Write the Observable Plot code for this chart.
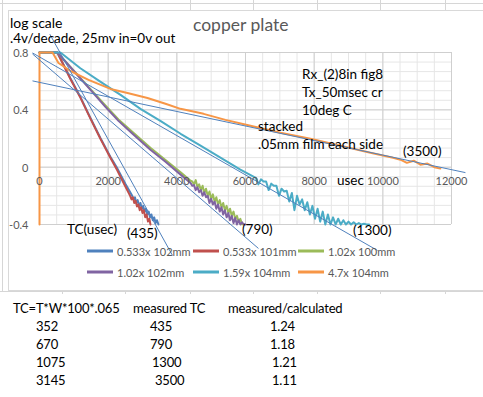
<!DOCTYPE html>
<html><head><meta charset="utf-8">
<script src="https://cdn.jsdelivr.net/npm/d3@7"></script>
<script src="https://cdn.jsdelivr.net/npm/@observablehq/plot@0.6"></script>
<style>
html,body{margin:0;padding:0;background:#fff;}
#wrap{position:relative;width:483px;height:397px;overflow:hidden;font-family:Lato,"Open Sans",sans-serif;}
.t{position:absolute;white-space:nowrap;line-height:1;transform:translateY(-50%);color:#000;}
.g{position:absolute;background:#d6d6d6;}
.sw{position:absolute;height:3px;width:26px;transform:translateY(-50%);}
#plot{position:absolute;left:0;top:0;}
</style></head><body><div id="wrap"><div id="plot"></div></div>
<script>
// ---- data ----
const seriesNames = ["0.533x 102mm","0.533x 101mm","1.02x 100mm","1.02x 102mm","1.59x 104mm","4.7x 104mm"];
const seriesColors = ["#4f81bd","#c0504d","#9bbb59","#8064a2","#4bacc6","#f79646"];

const s1x = [0, 520, 900, 1190, 1480, 1770, 2060, 2270, 2500, 2700, 2740, 2780, 2820, 2860, 2900, 2940, 2980, 3020, 3060, 3100, 3140, 3180, 3220, 3260, 3300, 3340, 3380, 3420, 3465];
const s1y = [0.8, 0.8, 0.62, 0.49, 0.345, 0.205, 0.075, -0.01, -0.115, -0.2, -0.225, -0.21, -0.25, -0.23, -0.27, -0.25, -0.29, -0.27, -0.31, -0.29, -0.33, -0.31, -0.35, -0.33, -0.37, -0.35, -0.39, -0.37, -0.4];

const s2x = [0, 520, 900, 1190, 1480, 1770, 2060, 2260, 2490, 2640, 2680, 2720, 2760, 2800, 2840, 2880, 2920, 2960, 3000, 3040, 3080, 3120, 3160, 3200, 3232];
const s2y = [0.8, 0.8, 0.615, 0.485, 0.34, 0.2, 0.068, -0.02, -0.13, -0.2, -0.225, -0.21, -0.25, -0.235, -0.275, -0.26, -0.3, -0.28, -0.32, -0.3, -0.35, -0.33, -0.38, -0.36, -0.4];

const s3x = [0, 520, 1050, 1485, 1920, 2300, 2710, 3230, 3670, 4110, 4400, 4450, 4500, 4550, 4600, 4650, 4700, 4750, 4800, 4850, 4900, 4950, 5000, 5050, 5100, 5150, 5200, 5250, 5300, 5350, 5400, 5450, 5500, 5550, 5600, 5650, 5700, 5750, 5800, 5850, 5900];
const s3y = [0.8, 0.8, 0.66, 0.545, 0.43, 0.333, 0.245, 0.135, 0.05, -0.035, -0.095, -0.1, -0.12, -0.09, -0.14, -0.12, -0.16, -0.13, -0.18, -0.15, -0.2, -0.17, -0.22, -0.19, -0.24, -0.21, -0.26, -0.23, -0.28, -0.25, -0.3, -0.27, -0.32, -0.29, -0.34, -0.31, -0.36, -0.34, -0.38, -0.36, -0.4];

const s4x = [0, 520, 1050, 1485, 1920, 2300, 2710, 3230, 3670, 4110, 4400, 4450, 4500, 4550, 4600, 4650, 4700, 4750, 4800, 4850, 4900, 4950, 5000, 5050, 5100, 5150, 5200, 5250, 5300, 5350, 5400, 5450, 5500, 5550, 5600, 5650, 5700, 5750, 5800, 5850, 5900, 5950, 6000];
const s4y = [0.8, 0.8, 0.657, 0.539, 0.421, 0.323, 0.233, 0.122, 0.038, -0.052, -0.11, -0.13, -0.125, -0.16, -0.14, -0.175, -0.16, -0.2, -0.175, -0.21, -0.2, -0.25, -0.22, -0.26, -0.24, -0.29, -0.26, -0.31, -0.28, -0.33, -0.3, -0.35, -0.32, -0.37, -0.34, -0.39, -0.355, -0.4, -0.37, -0.4, -0.385, -0.4, -0.4];

const s5x = [0, 610, 1190, 1780, 2360, 2940, 3520, 4110, 4690, 5270, 5850, 6300, 6375, 6450, 6525, 6600, 6675, 6750, 6825, 6900, 6975, 7050, 7125, 7200, 7275, 7350, 7425, 7500, 7575, 7650, 7725, 7800, 7875, 7950, 8025, 8100, 8175, 8250, 8325, 8400, 8475, 8550, 8625, 8700, 8775, 8850, 8925, 9000, 9075, 9150, 9225, 9300, 9375, 9450, 9525, 9600];
const s5y = [0.8, 0.8, 0.69, 0.595, 0.504, 0.407, 0.323, 0.233, 0.15, 0.066, -0.017, -0.075, -0.12, -0.085, -0.1, -0.1, -0.16, -0.115, -0.13, -0.13, -0.2, -0.15, -0.17, -0.165, -0.24, -0.18, -0.3, -0.2, -0.26, -0.225, -0.3, -0.245, -0.33, -0.27, -0.36, -0.29, -0.38, -0.31, -0.4, -0.33, -0.4, -0.35, -0.4, -0.36, -0.4, -0.37, -0.4, -0.38, -0.4, -0.385, -0.4, -0.39, -0.4, -0.395, -0.4, -0.4];

const s6x = [0, 0, 379, 553, 903, 1427, 2068, 2563, 3145, 3669, 4106, 4780, 5416, 6145, 7018, 7892, 8765, 9639, 10300, 10513, 10700, 10900, 11095, 11300, 11500, 11677];
const s6y = [-0.4, 0.8, 0.8, 0.727, 0.671, 0.609, 0.546, 0.518, 0.483, 0.442, 0.407, 0.372, 0.33, 0.289, 0.24, 0.198, 0.15, 0.101, 0.065, 0.052, 0.03, 0.045, 0.017, 0.025, 0.0, -0.01];

// trend lines (start/end) labelled by measured TC
const trendTC = [435, 790, 1300, 3500];
const trendX1 = [300, -204, -204, -204];
const trendY1 = [0.928, 0.79, 0.797, 0.602];
const trendX2 = [3874, 6377, 9843, 12406];
const trendY2 = [-0.616, -0.567, -0.581, -0.038];

const xTicks = [0, 2000, 4000, 6000, 8000, 10000, 12000];
const yTicks = [-0.4, 0, 0.4, 0.8];
const xMinor = d3.range(0, 12001, 500);
const yMinor = d3.range(0, 19).map(i => -0.4 + i * 0.4 / 6);

const calcTC = [352, 670, 1075, 3145];
const measTC = [435, 790, 1300, 3500];
const ratio = ["1.24", "1.18", "1.21", "1.11"];

// ---- build ----
const sx = [s1x, s2x, s3x, s4x, s5x, s6x], sy = [s1y, s2y, s3y, s4y, s5y, s6y];
const seriesMarks = sx.map((xs, i) => Plot.line(xs.map((x, j) => ({x, y: sy[i][j]})),
  {x: "x", y: "y", stroke: seriesColors[i], strokeWidth: 2, strokeLinejoin: "round"}));
const trends = trendTC.map((tc, i) => ({tc, x1: trendX1[i], y1: trendY1[i], x2: trendX2[i], y2: trendY2[i]}));

const chart = Plot.plot({
  width: 483, height: 290,
  marginLeft: 39, marginRight: 32, marginTop: 52, marginBottom: 66,
  x: {domain: [0, 12000], axis: null},
  y: {domain: [-0.4, 0.8], axis: null},
  style: {fontFamily: "Lato, sans-serif", background: "transparent", overflow: "visible"},
  marks: [
    Plot.ruleX(xMinor, {stroke: "#e6e6e6", strokeWidth: 1}),
    Plot.ruleY(yMinor, {stroke: "#e6e6e6", strokeWidth: 1}),
    Plot.ruleX(xTicks, {stroke: "#cfcfcf", strokeWidth: 1}),
    Plot.ruleY(yTicks, {stroke: "#cfcfcf", strokeWidth: 1}),
    ...seriesMarks,
    Plot.link(trends, {x1: "x1", y1: "y1", x2: "x2", y2: "y2", stroke: "#4f81bd", strokeWidth: 1}),
    Plot.text(xTicks, {x: d => d, y: 0, dy: 14.5, text: d => String(d), fill: "#595959", fontSize: 11}),
    Plot.text(yTicks, {x: 0, y: d => d, dx: -11, dy: 1, textAnchor: "end", text: d => String(d), fill: "#595959", fontSize: 11})
  ]
});
document.getElementById("plot").appendChild(chart);

const wrap = document.getElementById("wrap");
function line(l, t, w, h) { const d = document.createElement("div"); d.className = "g"; Object.assign(d.style, {left: l + "px", top: t + "px", width: w + "px", height: h + "px"}); wrap.insertBefore(d, wrap.firstChild); }
line(0, 3, 483, 1); line(2, 0, 1, 291); line(0, 291, 483, 1);
[62, 125, 190, 253, 317, 380, 445].forEach(x => { line(x, 0, 1, 10); line(x, 288, 1, 6); });
// chart border
const b = document.createElement("div");
Object.assign(b.style, {position: "absolute", left: "8px", top: "10px", width: "490px", height: "279px", border: "1px solid #d9d9d9", background: "#fff"});
wrap.insertBefore(b, document.getElementById("plot"));

function txt(s, l, y, size, color, extra) { const d = document.createElement("div"); d.className = "t"; d.textContent = s; Object.assign(d.style, {left: l + "px", top: y + "px", fontSize: size + "px"}); if (color) d.style.color = color; if (extra) Object.assign(d.style, extra); wrap.appendChild(d); }
txt("log scale", 10, 22.5, 14);
txt(".4v/decade, 25mv in=0v out", 10, 38.5, 13.5);
txt("copper plate", 193, 25, 17.5, "#595959");
txt("Rx_(2)8in fig8", 302, 75, 13.5);
txt("Tx_50msec cr", 302, 93, 13.5);
txt("10deg C", 302, 111, 13.5);
txt("stacked", 258, 127, 13.5);
txt(".05mm film each side", 258, 145, 13.5);
txt("(" + measTC[3] + ")", 403, 152, 13.5);
txt("usec", 337, 181, 13.5);
txt("TC(usec)", 67, 230, 13.5);
txt("(" + measTC[0] + ")", 127, 234, 13.5);
txt("(" + measTC[1] + ")", 242, 230, 13.5);
txt("(" + measTC[2] + ")", 353, 231, 13.5);

// legend
const legX = [87, 193, 298], legY = [251, 272];
seriesNames.forEach((n, i) => {
  const col = i % 3, row = Math.floor(i / 3);
  const s = document.createElement("div"); s.className = "sw";
  Object.assign(s.style, {left: legX[col] + "px", top: legY[row] + "px", background: seriesColors[i]});
  wrap.appendChild(s);
  txt(n, legX[col] + 30, legY[row], 11, "#595959");
});

// table
const tb = {letterSpacing: "-0.2px"};
txt("TC=T*W*100*.065", 13, 308, 13, null, tb);
txt("measured TC", 133, 308, 13, null, tb);
txt("measured/calculated", 228, 308, 13, null, tb);
const rowY = [326, 344, 362, 380], c2 = [150, 150, 152, 155], c3 = [270, 270, 272, 272];
calcTC.forEach((v, i) => {
  txt(String(v), 36, rowY[i], 13, null, tb);
  txt(String(measTC[i]), c2[i], rowY[i], 13, null, tb);
  txt(ratio[i], c3[i], rowY[i], 13, null, tb);
});
</script></body></html>
